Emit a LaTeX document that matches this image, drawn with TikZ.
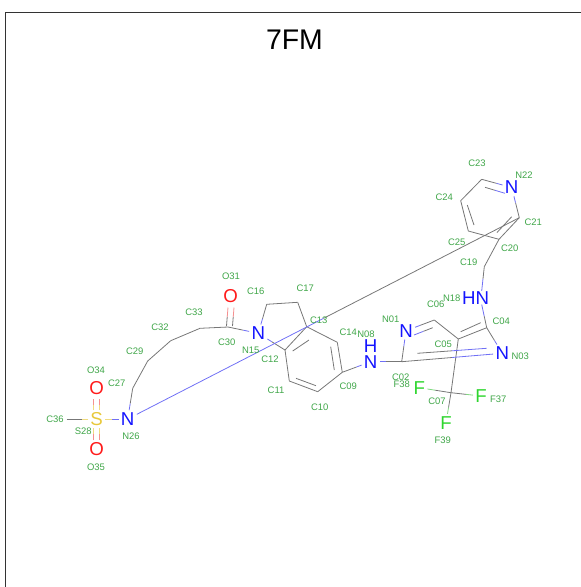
\documentclass[tikz,border=0pt]{standalone}
\usepackage{fontspec}
\setmainfont{Liberation Sans}
\usetikzlibrary{calc}
\definecolor{bgrey}{HTML}{777777}
\definecolor{bblue}{HTML}{7070F5}
\definecolor{bred}{HTML}{F59090}
\definecolor{byel}{HTML}{F0DC80}
\definecolor{bgreen}{HTML}{80D880}
\definecolor{lgreen}{HTML}{3FA648}
\definecolor{aN}{HTML}{1414FF}
\definecolor{aO}{HTML}{FF1A1A}
\definecolor{aF}{HTML}{2ED62E}
\definecolor{aS}{HTML}{E8C83A}
\tikzset{
  lab/.style={text=lgreen,font=\fontsize{7.1pt}{8pt}\selectfont,inner sep=0pt},
  atom/.style={font=\fontsize{14pt}{15pt}\selectfont,inner sep=1.6pt},
  bondline/.style={line width=0.6pt,line cap=butt},
  framed/.style={draw=black!80,line width=0.8pt}
}
\newcommand{\halfb}[4]{%
  \draw[bondline,#3] (#1) -- ($(#1)!.5!(#2)$);
  \draw[bondline,#4] (#2) -- ($(#1)!.5!(#2)$);}
\newcommand{\grb}[2]{\draw[bondline,bgrey] (#1) -- (#2);}
\begin{document}
\begin{tikzpicture}[x=0.75pt,y=-0.75pt]
\useasboundingbox (0,0) rectangle (581,587);
\coordinate (fa) at (5.5,587);
\coordinate (fb) at (5.5,12.5);
\coordinate (fc) at (581,12.5);
\draw[framed] (fa) -- (fb) -- (fc);
\node[font=\fontsize{21.3pt}{22pt}\selectfont,text=black] (title) at (294.5,39.5) {7FM};

% carbon vertices
\coordinate (C02) at (401.7,361.7);
\coordinate (C04) at (486.7,327.7);
\coordinate (C05) at (458.3,339);
\coordinate (C06) at (434.3,320);
\coordinate (C07) at (451,392.7);
\coordinate (C09) at (342.3,372.3);
\coordinate (C10) at (317.7,391.7);
\coordinate (C11) at (289.3,381);
\coordinate (C12) at (285,350);
\coordinate (C13) at (306.7,326.7);
\coordinate (C14) at (337.3,342.3);
\coordinate (C16) at (266.7,304.3);
\coordinate (C17) at (297.7,302.3);
\coordinate (C19) at (484.3,266.7);
\coordinate (C20) at (499,239.3);
\coordinate (C21) at (519.3,217.7);
\coordinate (C23) at (481.7,179.3);
\coordinate (C24) at (460.7,200.7);
\coordinate (C25) at (468.3,231);
\coordinate (C27) at (132.7,388.3);
\coordinate (C29) at (147.7,361);
\coordinate (C30) at (228,327);
\coordinate (C32) at (170.7,340.7);
\coordinate (C33) at (200,328.3);
\coordinate (C36) at (66.7,419);

% hetero atoms
\node[atom,text=aN] (N01) at (406,330.7) {N};
\node[atom,text=aN] (N03) at (502.3,353.3) {N};
\node[atom,text=aN] (N08) at (370.7,361.7) {N};
\node[atom,text=aN,inner sep=0pt] (H08) at (370.7,346.2) {H};
\node[atom,text=aN] (N15) at (258.3,333.3) {N};
\node[atom,text=aN] (N18) at (475.7,297.7) {HN};
\node[atom,text=aN] (N22) at (511.7,187.5) {N};
\node[atom,text=aN] (N26) at (127.7,419) {N};
\node[atom,text=aS] (S28) at (96.7,419) {S};
\node[atom,text=aO] (O31) at (230.7,296) {O};
\node[atom,text=aO] (O34) at (96.7,387.7) {O};
\node[atom,text=aO] (O35) at (96.7,449.3) {O};
\node[atom,text=aF] (F37) at (481,396) {F};
\node[atom,text=aF] (F38) at (419.3,387.7) {F};
\node[atom,text=aF] (F39) at (446,422.7) {F};

% carbon-carbon bonds
\grb{C05}{C06}\grb{C04}{C05}\grb{C05}{C07}
\grb{C09}{C10}\grb{C09}{C14}\grb{C10}{C11}\grb{C11}{C12}\grb{C12}{C13}
\grb{C13}{C14}\grb{C13}{C17}\grb{C16}{C17}\grb{C19}{C20}\grb{C20}{C21}
\grb{C20}{C25}\grb{C23}{C24}\grb{C24}{C25}\grb{C27}{C29}\grb{C29}{C32}
\grb{C32}{C33}\grb{C30}{C33}

% inner lines of double bonds
\coordinate (d1a) at (467.3,205);   \coordinate (d1b) at (474,225);   \grb{d1a}{d1b}
\coordinate (d2a) at (497,232.5);   \coordinate (d2b) at (511.7,216.7); \grb{d2a}{d2b}
\coordinate (d3a) at (460.7,331.7); \coordinate (d3b) at (480.7,322.7); \grb{d3a}{d3b}
\coordinate (d4a) at (292.7,351);   \coordinate (d4b) at (309,340);   \grb{d4a}{d4b}
\coordinate (d5a) at (330.7,346.7); \coordinate (d5b) at (334.3,370); \grb{d5a}{d5b}
\coordinate (d6a) at (296,378.3);   \coordinate (d6b) at (316,385.7); \grb{d6a}{d6b}

% hetero bonds
\halfb{C02}{N01}{bgrey}{bblue}
\halfb{C02}{N03}{bgrey}{bblue}
\halfb{C02}{N08}{bgrey}{bblue}
\halfb{C04}{N03}{bgrey}{bblue}
\halfb{C06}{N01}{bgrey}{bblue}
\halfb{C09}{N08}{bgrey}{bblue}
\halfb{C07}{F37}{bgrey}{bgreen}
\halfb{C07}{F38}{bgrey}{bgreen}
\halfb{C07}{F39}{bgrey}{bgreen}
\halfb{C12}{N15}{bgrey}{bblue}
\halfb{C16}{N15}{bgrey}{bblue}
\halfb{C30}{N15}{bgrey}{bblue}
\halfb{C23}{N22}{bgrey}{bblue}
\halfb{C21}{N22}{bgrey}{bblue}
\halfb{C21}{N26}{bgrey}{bblue}
\halfb{C27}{N26}{bgrey}{bblue}
\halfb{C36}{S28}{bgrey}{byel}
\halfb{N26}{S28}{bblue}{byel}
\coordinate (n18t) at ($(N18.north)+(6,2)$);
\coordinate (n18b) at ($(N18.south)+(6,-2)$);
\halfb{C19}{n18t}{bgrey}{bblue}
\halfb{C04}{n18b}{bgrey}{bblue}

% inner hetero double bond lines
\coordinate (e1a) at (417.3,353.3); \coordinate (e1b) at (486.7,348.3); \halfb{e1a}{e1b}{bgrey}{bblue}
\coordinate (e2a) at (432.7,327.7); \coordinate (e2b) at (414,335);     \halfb{e2a}{e2b}{bgrey}{bblue}
\coordinate (e3a) at (485,187.3);   \coordinate (e3b) at (505,193.3);   \halfb{e3a}{e3b}{bgrey}{bblue}

% C=O and S=O
\coordinate (o1a) at (232.5,326); \coordinate (o1b) at (234,307.5); \halfb{o1a}{o1b}{bgrey}{bred}
\coordinate (o2a) at (226.5,326); \coordinate (o2b) at (228,307.5); \halfb{o2a}{o2b}{bgrey}{bred}
\coordinate (s1a) at (93.7,410);  \coordinate (s1b) at (93.7,399);  \halfb{s1a}{s1b}{byel}{bred}
\coordinate (s2a) at (99.7,410);  \coordinate (s2b) at (99.7,399);  \halfb{s2a}{s2b}{byel}{bred}
\coordinate (s3a) at (93.7,428);  \coordinate (s3b) at (93.7,440);  \halfb{s3a}{s3b}{byel}{bred}
\coordinate (s4a) at (99.7,428);  \coordinate (s4b) at (99.7,440);  \halfb{s4a}{s4b}{byel}{bred}

% atom labels
\node[lab] (lN01) at (390.7,319) {N01};
\node[lab] (lC02) at (400.7,377) {C02};
\node[lab] (lN03) at (520.3,356.3) {N03};
\node[lab] (lC04) at (501.3,321.3) {C04};
\node[lab] (lC05) at (443.3,344.7) {C05};
\node[lab] (lC06) at (435.7,304.3) {C06};
\node[lab] (lC07) at (437,401.7) {C07};
\node[lab] (lN08) at (366,334.3) {N08};
\node[lab] (lC09) at (348.3,386.7) {C09};
\node[lab] (lC10) at (319.7,407.7) {C10};
\node[lab] (lC11) at (276,390.3) {C11};
\node[lab] (lC12) at (270,359) {C12};
\node[lab] (lC13) at (318.7,320) {C13};
\node[lab] (lC14) at (348.3,332.3) {C14};
\node[lab] (lN15) at (250.7,350.3) {N15};
\node[lab] (lC16) at (255.7,291) {C16};
\node[lab] (lC17) at (305.3,288.3) {C17};
\node[lab] (lN18) at (451.7,298.3) {N18};
\node[lab] (lC19) at (468.7,262.3) {C19};
\node[lab] (lC20) at (509.7,248.7) {C20};
\node[lab] (lC21) at (533.3,222) {C21};
\node[lab] (lN22) at (524,174.7) {N22};
\node[lab] (lC23) at (477,163.7) {C23};
\node[lab] (lC24) at (444.3,197.7) {C24};
\node[lab] (lC25) at (456.7,242.7) {C25};
\node[lab] (lN26) at (131,436.7) {N26};
\node[lab] (lC27) at (116.7,383.3) {C27};
\node[lab] (lS28) at (83.3,431.7) {S28};
\node[lab] (lC29) at (134.7,351.7) {C29};
\node[lab] (lC30) at (226.7,342) {C30};
\node[lab] (lO31) at (231,276.7) {O31};
\node[lab] (lC32) at (160,327.3) {C32};
\node[lab] (lC33) at (194,312.7) {C33};
\node[lab] (lO34) at (96,370) {O34};
\node[lab] (lO35) at (96,467.7) {O35};
\node[lab] (lC36) at (55,419.3) {C36};
\node[lab] (lF37) at (498.3,399) {F37};
\node[lab] (lF38) at (401.7,384.3) {F38};
\node[lab] (lF39) at (442.7,440) {F39};
\end{tikzpicture}
\end{document}
